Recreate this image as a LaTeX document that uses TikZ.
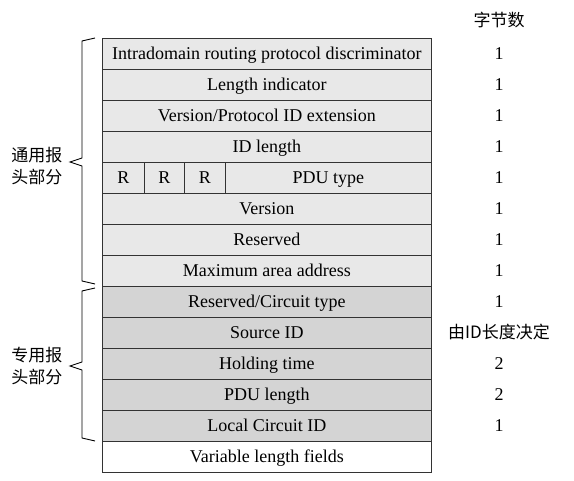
\documentclass[tikz,border=0pt]{standalone}
\usepackage{fontspec}
\setmainfont{Liberation Serif}
\newfontfamily\cjk{Noto Sans CJK SC}
\begin{document}
\begin{tikzpicture}[x=1pt,y=-1pt,
  fieldA/.style={draw=black!80,line width=0.8pt,fill=black!9},
  fieldB/.style={draw=black!80,line width=0.8pt,fill=black!17},
  fieldC/.style={draw=black!80,line width=0.8pt,fill=white},
  lbl/.style={font=\fontsize{18}{20}\selectfont,inner sep=0pt,anchor=base},
  num/.style={font=\fontsize{18}{20}\selectfont,inner sep=0pt,anchor=base},
  cjklbl/.style={font=\cjk\fontsize{17}{22}\selectfont,inner sep=0pt,align=left},
  bracestyle/.style={draw=black,line width=0.9pt}]
\useasboundingbox (0,0) rectangle (574,481);
\def\L{102}\def\R{431}
% rows
\foreach \i/\t in {0/{Intradomain routing protocol discriminator},1/{Length indicator},2/{Version/Protocol ID extension},3/{ID length},5/{Version},6/{Reserved},7/{Maximum area address}}{
  \node[fieldA,minimum width=329pt,minimum height=31pt,anchor=north west,inner sep=0pt] (r\i) at (\L,38+31*\i) {};
  \node[lbl] (t\i) at ([yshift=-6pt]r\i.center) {\t};
}
% R cells row
\node[fieldA,minimum width=42pt,minimum height=31pt,anchor=north west,inner sep=0pt] (ra) at (102,162) {};
\node[fieldA,minimum width=40pt,minimum height=31pt,anchor=north west,inner sep=0pt] (rb) at (144,162) {};
\node[fieldA,minimum width=41pt,minimum height=31pt,anchor=north west,inner sep=0pt] (rc) at (184,162) {};
\node[fieldA,minimum width=206pt,minimum height=31pt,anchor=north west,inner sep=0pt] (r4) at (225,162) {};
\node[lbl] (ta) at ([yshift=-6pt]ra.center) {R};
\node[lbl] (tb) at ([yshift=-6pt]rb.center) {R};
\node[lbl] (tc) at ([yshift=-6pt]rc.center) {R};
\node[lbl] (t4) at ([yshift=-6pt]r4.center) {PDU type};
\foreach \i/\t in {8/{Reserved/Circuit type},9/{Source ID},10/{Holding time},11/{PDU length},12/{Local Circuit ID}}{
  \node[fieldB,minimum width=329pt,minimum height=31pt,anchor=north west,inner sep=0pt] (r\i) at (\L,38+31*\i) {};
  \node[lbl] (t\i) at ([yshift=-6pt]r\i.center) {\t};
}
\node[fieldC,minimum width=329pt,minimum height=31pt,anchor=north west,inner sep=0pt] (r13) at (\L,38+31*13) {};
\node[lbl] (t13) at ([yshift=-6pt]r13.center) {Variable length fields};
% byte counts
\node[cjklbl] (hdr) at (499,20) {字节数};
\foreach \i/\n in {0/1,1/1,2/1,3/1,4/1,5/1,6/1,7/1,8/1,10/2,11/2,12/1}{
  \node[num] (n\i) at (499,38+31*\i+15.5+6) {\n};
}
\node[cjklbl] (n9) at (499,38+31*9+15.5) {由ID长度决定};
% braces
\coordinate (b1t) at (95,38);
\coordinate (b1b) at (95,284);
\coordinate (b2t) at (95,288);
\coordinate (b2b) at (95,441);
\draw[bracestyle] (b1t) -- (82,41) -- (82,158) -- (70,162) -- (82,166) -- (82,281) -- (b1b);
\draw[bracestyle] (b2t) -- (82,291) -- (82,362) -- (70,366) -- (82,370) -- (82,438) -- (b2b);
\node[cjklbl] (g1) at (37,166) {通用报\\头部分};
\node[cjklbl] (g2) at (37,366) {专用报\\头部分};
\end{tikzpicture}
\end{document}
